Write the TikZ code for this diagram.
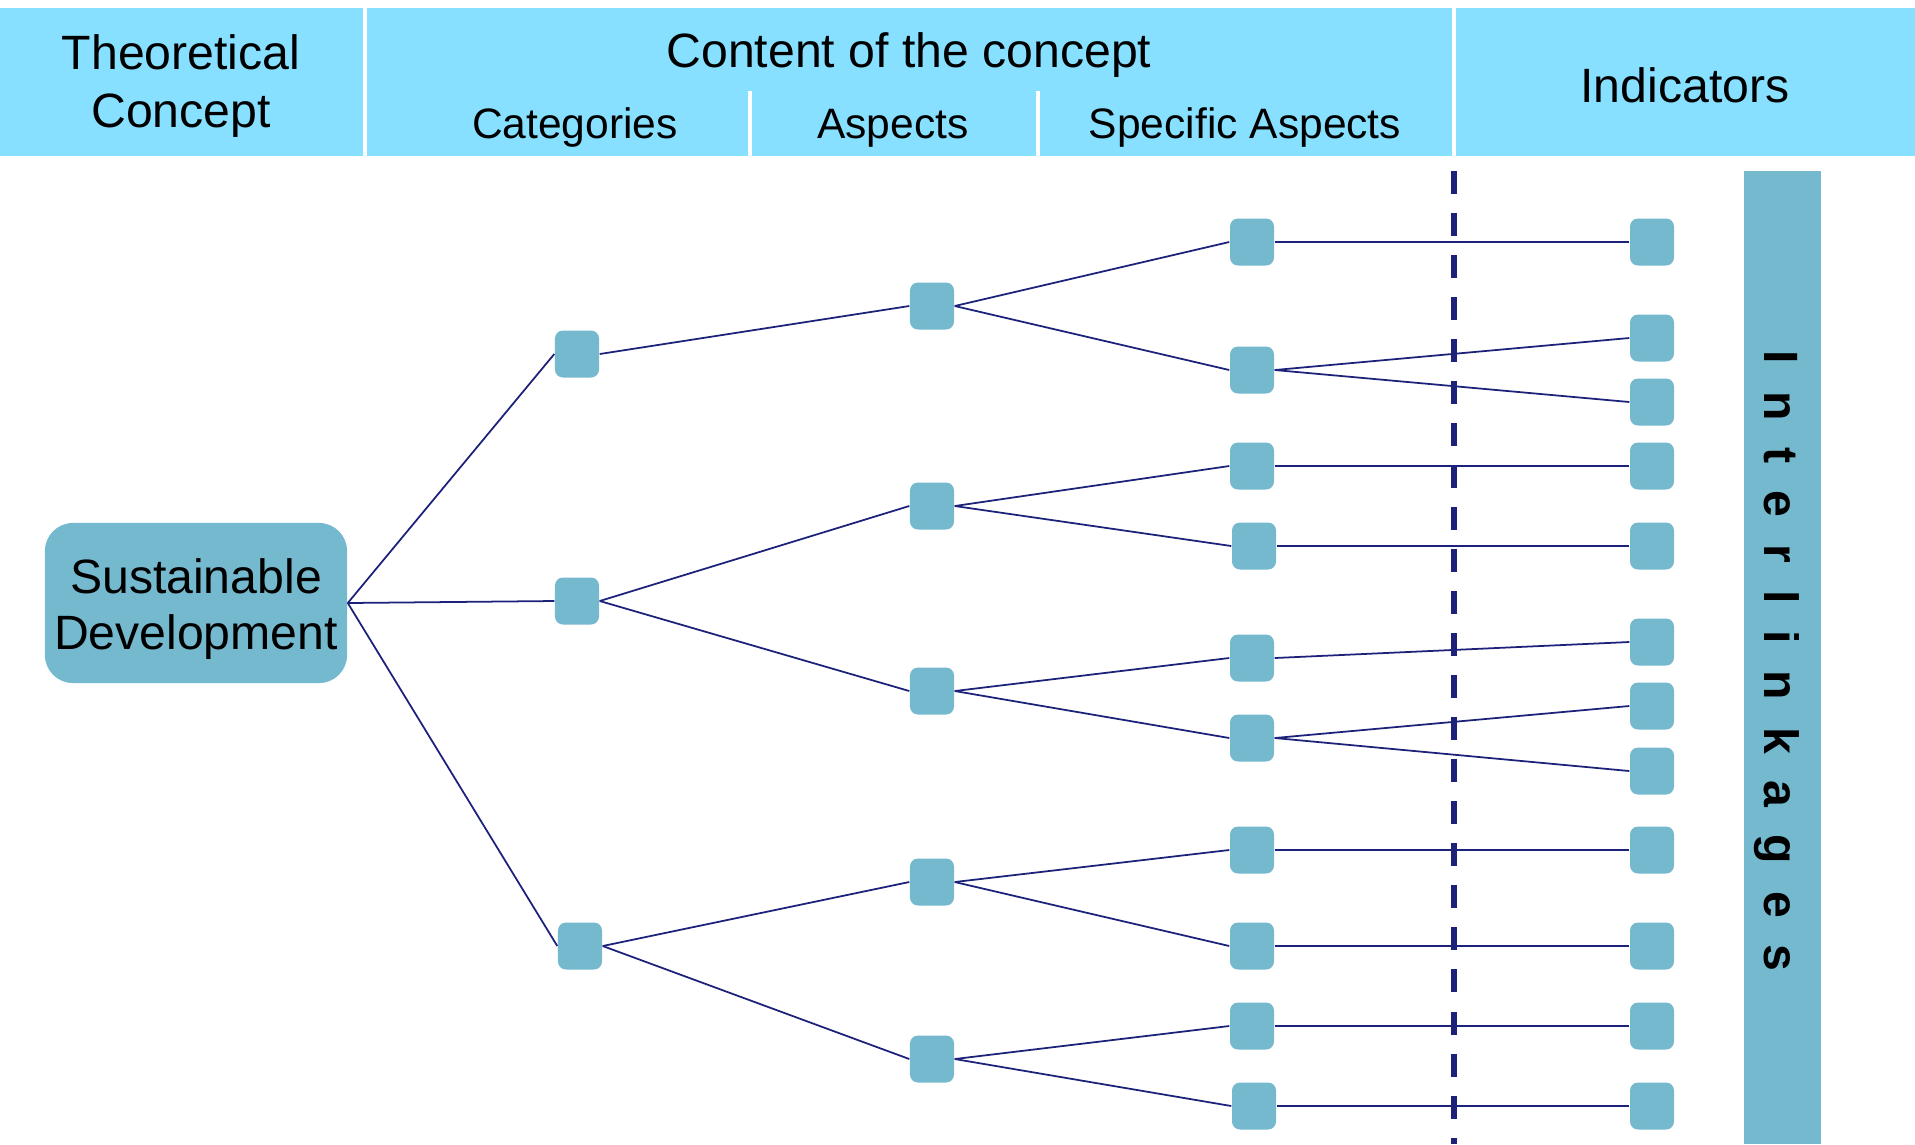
\documentclass[tikz,border=0pt]{standalone}
\usepackage{fontspec}
\setmainfont{Liberation Sans}
\newfontfamily\trackfont[LetterSpace=56]{Liberation Sans}
\usetikzlibrary{calc}

\definecolor{headblue}{RGB}{135,224,255}
\definecolor{boxblue}{RGB}{117,185,207}
\definecolor{linknavy}{RGB}{28,34,122}

\tikzset{
    cell/.style={fill=boxblue, rounded corners=0.08cm, minimum width=0.44cm, minimum height=0.47cm, inner sep=0pt},
    link/.style={linknavy, line width=0.5pt},
    head/.style={font=\fontsize{13.7}{16.4}\selectfont, anchor=base, inner sep=0pt},
    subhead/.style={head, font=\fontsize{12.1}{14.5}\selectfont},
}

\begin{document}
\begin{tikzpicture}[x=0.01cm, y=-0.01cm]
    \useasboundingbox (0,0) rectangle (1915,1144);
    \fill[white] (0,0) rectangle (1915,1144);

    % header band
    \fill[headblue] (0,8) rectangle (363,156);
    \fill[headblue] (367,8) rectangle (1452,156);
    \fill[headblue] (1456,8) rectangle (1915,156);
    \fill[white] (748,91) rectangle (752,156);
    \fill[white] (1036,91) rectangle (1040,156);

    \node[head, anchor=center, align=center] (theory) at (181,86) {Theoretical\\Concept};
    \node[head] (content) at (909,67) {Content of the concept};
    \node[subhead] (categ) at (575,138) {Categories};
    \node[subhead] (aspect) at (893,138) {Aspects};
    \node[subhead] (specific) at (1245,138) {Specific Aspects};
    \node[head] (indic) at (1685,102) {Indicators};

    % interlinkages bar
    \fill[boxblue] (1744,171) rectangle (1821,1144);
    \node[rotate=-90, anchor=base west, inner sep=0pt,
          font=\trackfont\bfseries\fontsize{13.7}{16}\selectfont] (inter) at (1764,350) {Interlinkages};

    % the tree
    \node[fill=boxblue, rounded corners=0.28cm, minimum width=3.02cm, minimum height=1.6cm,
          inner sep=0pt, align=center, font=\fontsize{13.7}{15.9}\selectfont] (sd) at (196,603)
          {\rule{0pt}{0.47cm}Sustainable\\Development};
    \foreach \n/\x/\y in {1/577/354, 2/577/601, 3/580/946}
        \node[cell] (c\n) at (\x,\y) {};
    \foreach \n/\y in {1/306, 2/506, 3/691, 4/882, 5/1059}
        \node[cell] (a\n) at (932,\y) {};
    \foreach \n/\x/\y in {1/1252/242, 2/1252/370, 3/1252/466, 4/1254/546, 5/1252/658,
                          6/1252/738, 7/1252/850, 8/1252/946, 9/1252/1026, 10/1254/1106}
        \node[cell] (s\n) at (\x,\y) {};
    \foreach \n/\y in {1/242, 2/338, 3/402, 4/466, 5/546, 6/642, 7/706, 8/771, 9/850, 10/946, 11/1026, 12/1106}
        \node[cell] (i\n) at (1652,\y) {};

    % dashed cut between aspects and indicators
    \coordinate (cut top) at (1454,171);
    \coordinate (cut end) at (1454,1144);
    \draw[linknavy, line width=0.06cm, dash pattern=on 0.23cm off 0.19cm] (cut top) -- (cut end);

    \foreach \a/\b in {sd/c1, sd/c2, sd/c3, c1/a1, c2/a2, c2/a3, c3/a4, c3/a5,
                       a1/s1, a1/s2, a2/s3, a2/s4, a3/s5, a3/s6, a4/s7, a4/s8, a5/s9, a5/s10,
                       s1/i1, s2/i2, s2/i3, s3/i4, s4/i5, s5/i6, s6/i7, s6/i8,
                       s7/i9, s8/i10, s9/i11, s10/i12}
        \draw[link] (\a.east) -- (\b.west);
\end{tikzpicture}
\end{document}
